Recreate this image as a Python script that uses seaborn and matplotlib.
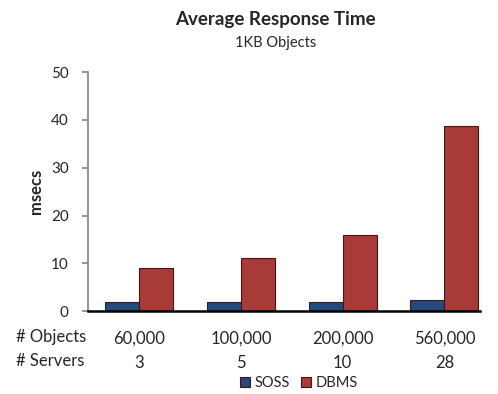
import matplotlib
matplotlib.use("Agg")
import matplotlib.pyplot as plt
import pandas as pd
import seaborn as sns

objects = ["60,000", "100,000", "200,000", "560,000"]
servers = ["3", "5", "10", "28"]
series = ["SOSS", "DBMS"]
soss_ms = [1.9, 1.9, 1.9, 2.3]
dbms_ms = [9.1, 11.2, 16.0, 38.8]

df = pd.DataFrame(
    {
        "group": objects * 2,
        "system": ["SOSS"] * 4 + ["DBMS"] * 4,
        "msecs": soss_ms + dbms_ms,
    }
)

sns.set_theme(style="white")
plt.rcParams["font.family"] = ["Lato", "DejaVu Sans"]

fig = plt.figure(figsize=(4.98, 3.94), dpi=100)
ax = fig.add_axes([0.177, 0.21, 0.787, 0.607])

palette = {"SOSS": "#234a7c", "DBMS": "#a83a37"}
sns.barplot(
    data=df, x="group", y="msecs", hue="system", hue_order=series,
    palette=palette, width=0.667, saturation=1, edgecolor="#3a1a1a",
    linewidth=0.8, ax=ax, legend=True,
)

ax.set_ylim(0, 50)
ax.set_xlim(-0.5, 3.35)
ax.set_yticks([0, 10, 20, 30, 40, 50])
ax.tick_params(axis="y", labelsize=11, length=4, color="#888888", direction="out", left=True, pad=10)
ax.set_xticks(range(4))
ax.set_xticklabels([f"{o}\n{s}" for o, s in zip(objects, servers)], fontsize=12, linespacing=1.6)
ax.tick_params(axis="x", length=0, pad=14)
ax.set_xlabel("")
ax.set_ylabel("msecs", fontsize=12, fontweight="bold", labelpad=5)

for side in ["top", "right"]:
    ax.spines[side].set_visible(False)
ax.spines["left"].set_color("#888888")
ax.spines["bottom"].set_color("black")
ax.spines["bottom"].set_linewidth(1.8)

fig.text(0.033, 0.115, "# Objects\n# Servers", fontsize=12, va="center", ha="left", linespacing=1.6)

fig.text(0.554, 0.95, "Average Response Time", fontsize=13.5, fontweight="bold", ha="center", va="center")
fig.text(0.554, 0.892, "1KB Objects", fontsize=10.5, ha="center", va="center")

handles, labels = ax.get_legend_handles_labels()
ax.get_legend().remove()
fig.legend(handles, labels, loc="center", bbox_to_anchor=(0.6, 0.028), ncol=2,
           frameon=False, fontsize=10.5, handlelength=0.7, handleheight=0.7,
           handletextpad=0.3, columnspacing=0.8)

fig.savefig("out.png", dpi=100)
